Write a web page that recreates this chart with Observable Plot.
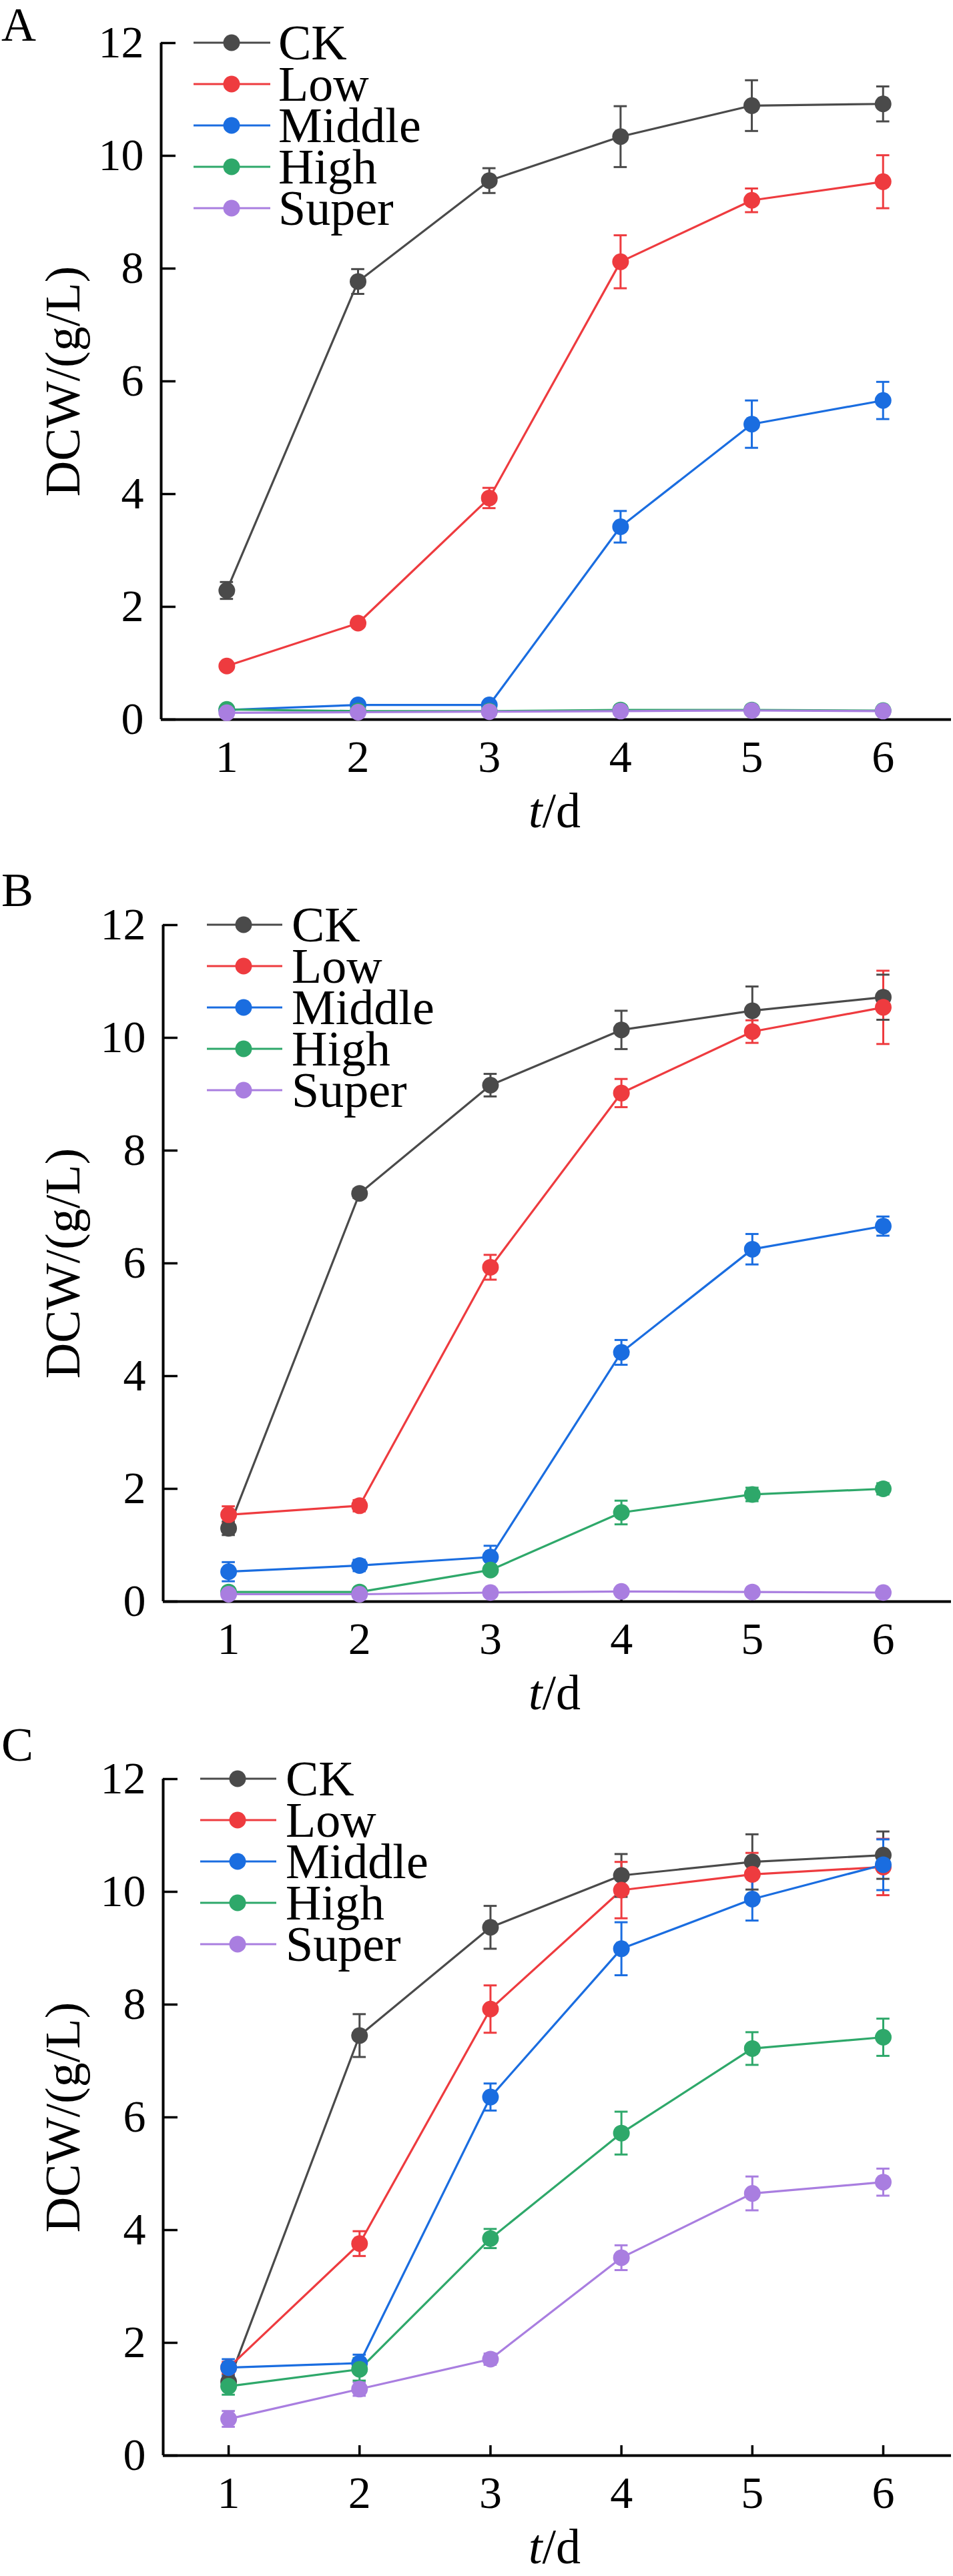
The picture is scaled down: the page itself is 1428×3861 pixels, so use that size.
<!DOCTYPE html>
<html><head><meta charset="utf-8">
<script src="https://cdn.jsdelivr.net/npm/d3@7"></script>
<script src="https://cdn.jsdelivr.net/npm/@observablehq/plot@0.6"></script>
<style>
body{margin:0;background:#fff;font-family:"Liberation Serif","Times New Roman",Times,serif;}
#root{position:relative;width:1428px;height:3861px;}
.panel{position:absolute;left:0;width:1428px;height:1259px;}
.ov{position:absolute;font-family:"Liberation Serif","Times New Roman",Times,serif;color:#000;white-space:nowrap;}
</style></head><body><div id="root"></div>
<script>
const days = [1,2,3,4,5,6];
const seriesNames = ["CK","Low","Middle","High","Super"];
const seriesColors = ["#4a4a4a","#ee3b3f","#1a6de0","#2ea86a","#a97ee0"];
const yTicks = [0,2,4,6,8,10,12];
const panelLetters = ["A","B","C"];

// Panel A
const A_CK = [2.29,7.77,9.56,10.34,10.89,10.92];
const A_CK_err = [0.15,0.22,0.22,0.54,0.45,0.31];
const A_Low = [0.95,1.71,3.93,8.12,9.21,9.54];
const A_Low_err = [0.05,0.05,0.18,0.47,0.21,0.47];
const A_Middle = [0.17,0.26,0.26,3.42,5.24,5.66];
const A_Middle_err = [0.03,0.03,0.03,0.28,0.42,0.33];
const A_High = [0.18,0.15,0.15,0.17,0.17,0.16];
const A_High_err = [0.03,0.03,0.03,0.03,0.03,0.03];
const A_Super = [0.12,0.13,0.14,0.15,0.16,0.15];
const A_Super_err = [0.02,0.02,0.02,0.02,0.02,0.02];
// Panel B
const B_CK = [1.30,7.24,9.16,10.14,10.48,10.72];
const B_CK_err = [0.12,0.08,0.20,0.34,0.43,0.40];
const B_Low = [1.54,1.70,5.93,9.02,10.11,10.54];
const B_Low_err = [0.15,0.10,0.22,0.25,0.20,0.65];
const B_Middle = [0.53,0.64,0.79,4.42,6.25,6.66];
const B_Middle_err = [0.17,0.10,0.20,0.22,0.27,0.17];
const B_High = [0.17,0.17,0.56,1.58,1.90,2.00];
const B_High_err = [0.03,0.03,0.05,0.21,0.12,0.10];
const B_Super = [0.13,0.13,0.16,0.18,0.17,0.16];
const B_Super_err = [0.02,0.02,0.02,0.02,0.02,0.02];
// Panel C
const C_CK = [1.31,7.45,9.37,10.29,10.53,10.65];
const C_CK_err = [0.12,0.38,0.38,0.38,0.49,0.42];
const C_Low = [1.56,3.76,7.92,10.03,10.31,10.44];
const C_Low_err = [0.10,0.22,0.42,0.50,0.38,0.50];
const C_Middle = [1.56,1.64,6.36,8.99,9.87,10.48];
const C_Middle_err = [0.15,0.15,0.24,0.47,0.38,0.45];
const C_High = [1.23,1.53,3.85,5.72,7.22,7.42];
const C_High_err = [0.15,0.20,0.17,0.38,0.29,0.33];
const C_Super = [0.65,1.18,1.71,3.51,4.65,4.85];
const C_Super_err = [0.14,0.12,0.10,0.22,0.30,0.24];

const panels = [
  {vals:[A_CK,A_Low,A_Middle,A_High,A_Super], errs:[A_CK_err,A_Low_err,A_Middle_err,A_High_err,A_Super_err], top:0, ml:241, letterTop:5, leg:{x1:290,x2:405,dot:347,text:417}},
  {vals:[B_CK,B_Low,B_Middle,B_High,B_Super], errs:[B_CK_err,B_Low_err,B_Middle_err,B_High_err,B_Super_err], top:1322, ml:244, letterTop:1302, leg:{x1:310,x2:423,dot:365,text:437}},
  {vals:[C_CK,C_Low,C_Middle,C_High,C_Super], errs:[C_CK_err,C_Low_err,C_Middle_err,C_High_err,C_Super_err], top:2602, ml:244, letterTop:2583, leg:{x1:300,x2:414,dot:356,text:428}}
];
const root = document.getElementById("root");
const MT = 64, H = 1259, MB = 181;
const legRowsRel = [0,62,124,186,248];

panels.forEach((p,pi)=>{
  const rows = [];
  seriesNames.forEach((s,si)=>days.forEach((d,di)=>rows.push({series:s, x:d, y:p.vals[si][di], e:p.errs[si][di]})));
  const color = {domain:seriesNames, range:seriesColors};
  const chart = Plot.plot({
    width:1428, height:H, marginTop:MT, marginBottom:MB, marginLeft:p.ml, marginRight:3,
    style:{fontFamily:"'Liberation Serif', 'Times New Roman', Times, serif", fontSize:"68px", color:"#000", background:"transparent"},
    x:{domain:[0.5,6.52], ticks:days, tickSize:0, tickPadding:30, label:null, tickFormat:d3.format("d")},
    y:{domain:[0,12], ticks:yTicks, tickSize:0, tickPadding:26, label:"DCW/(g/L)", labelAnchor:"center", labelArrow:"none", labelOffset:p.ml-66},
    color,
    marks:[
      Plot.ruleY(yTicks,{y:d=>d, x1:0.5, x2:0.5+22/196.5, stroke:"#000", strokeWidth:3.5}),
      Plot.ruleX(days,{x:d=>d, y1:0, y2:15/84.5, stroke:"#000", strokeWidth:3.5}),
      Plot.ruleX([0.5],{stroke:"#000", strokeWidth:4}),
      Plot.ruleY([0],{stroke:"#000", strokeWidth:4}),
      Plot.line(rows,{x:"x", y:"y", z:"series", stroke:"series", strokeWidth:3.2}),
      Plot.ruleX(rows,{x:"x", y1:d=>d.y-d.e, y2:d=>d.y+d.e, stroke:"series", strokeWidth:3}),
      Plot.ruleY(rows,{y:d=>d.y+d.e, x1:d=>d.x-0.05, x2:d=>d.x+0.05, stroke:"series", strokeWidth:3}),
      Plot.ruleY(rows,{y:d=>d.y-d.e, x1:d=>d.x-0.05, x2:d=>d.x+0.05, stroke:"series", strokeWidth:3}),
      Plot.dot(rows,{x:"x", y:"y", fill:"series", r:12.5, stroke:"none"})
    ]
  });
  chart.querySelectorAll("[aria-label='y-axis label'] text").forEach(t=>t.style.fontSize="74px");
  const wrap = document.createElement("div");
  wrap.className="panel"; wrap.style.top=p.top+"px";
  wrap.appendChild(chart);
  root.appendChild(wrap);

  const letter = document.createElement("div");
  letter.className="ov"; letter.textContent=panelLetters[pi];
  letter.style.cssText+=`left:2px;top:${p.letterTop}px;font-size:72px;line-height:64px;`;
  root.appendChild(letter);

  const xl = document.createElement("div");
  xl.className="ov"; xl.innerHTML="<i>t</i>/d";
  xl.style.cssText+=`left:831px;top:${p.top+1078+137}px;font-size:74px;line-height:60px;transform:translate(-50%,-50%);`;
  root.appendChild(xl);

  const lg = p.leg;
  seriesNames.forEach((s,si)=>{
    const cy = p.top + MT + legRowsRel[si];
    const svg = document.createElementNS("http://www.w3.org/2000/svg","svg");
    svg.setAttribute("width", lg.x2-lg.x1+20); svg.setAttribute("height", 40);
    svg.style.cssText=`position:absolute;left:${lg.x1-10}px;top:${cy-20}px;`;
    svg.innerHTML=`<line x1="10" x2="${lg.x2-lg.x1+10}" y1="20" y2="20" stroke="${seriesColors[si]}" stroke-width="3.2"/><circle cx="${lg.dot-lg.x1+10}" cy="20" r="12.5" fill="${seriesColors[si]}"/>`;
    root.appendChild(svg);
    const t = document.createElement("div");
    t.className="ov"; t.textContent=s;
    t.style.cssText+=`left:${lg.text}px;top:${cy}px;font-size:74px;line-height:56px;transform:translateY(-50%);`;
    root.appendChild(t);
  });
});
</script></body></html>
